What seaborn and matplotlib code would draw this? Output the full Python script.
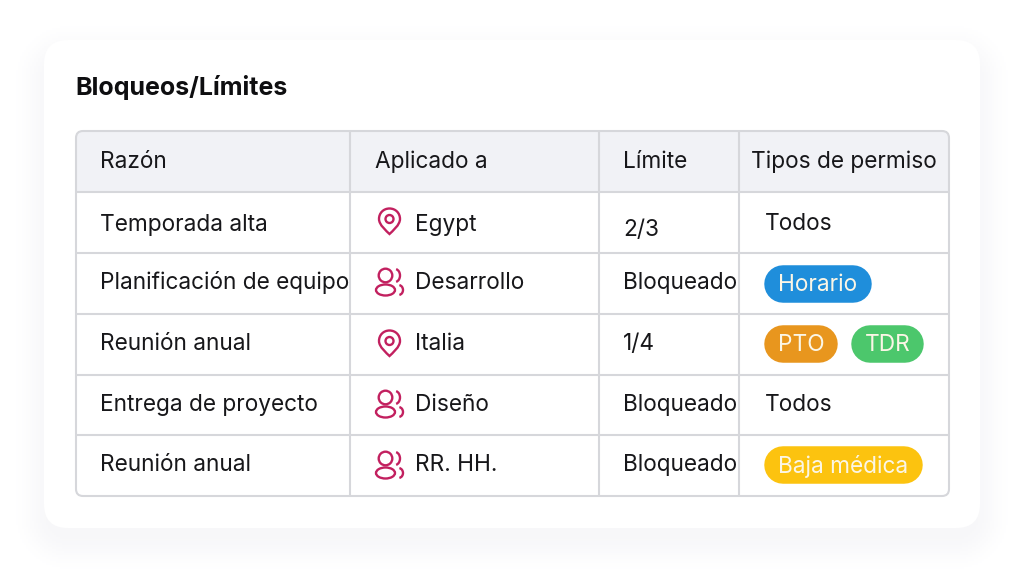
import numpy as np
import matplotlib
matplotlib.use("Agg")
import matplotlib.pyplot as plt
from matplotlib.patches import Circle, Ellipse, Arc, FancyBboxPatch, PathPatch, Rectangle
from matplotlib.path import Path
import seaborn as sns

TITLE = "Bloqueos/Límites"
HEADERS = ["Razón", "Aplicado a", "Límite", "Tipos de permiso"]
REASONS = ["Temporada alta", "Planificación de equipo", "Reunión anual",
           "Entrega de proyecto", "Reunión anual"]
APPLIED = ["Egypt", "Desarrollo", "Italia", "Diseño", "RR. HH."]
APPLIED_KIND = ["pin", "group", "pin", "group", "group"]
LIMITS = ["2/3", "Bloqueado", "1/4", "Bloqueado", "Bloqueado"]
PERMITS = [["Todos"], ["Horario"], ["PTO", "TDR"], ["Todos"], ["Baja médica"]]
TAG_COLORS = {"Horario": "#1F8EDB", "PTO": "#E8961E", "TDR": "#4CC76C", "Baja médica": "#FCC30F"}

W, H = 1024, 579
CARD = (44, 40, 980, 528)
TABLE = (76, 131, 949, 496)
COL_X = [350, 599, 739]
ROW_Y = [192, 253, 314, 375, 435]
ROW_TEXT_Y = [225, 283, 344, 405, 465]
LINE = "#D6D7DB"
INK = "#17171A"
ICON = "#C2205F"

sns.set_theme(style="white")
plt.rcParams["font.family"] = ["Inter", "DejaVu Sans"]

fig = plt.figure(figsize=(W / 100, H / 100), dpi=100, facecolor="white")

# soft drop shadow behind the card, on its own full-figure axes
step = 2
xs = np.arange(0, W, step) + step / 2
ys = np.arange(0, H, step) + step / 2
gx, gy = np.meshgrid(xs, ys)
cx, cy = (CARD[0] + CARD[2]) / 2, (CARD[1] + CARD[3]) / 2 + 14
dx = np.abs(gx - cx) - (CARD[2] - CARD[0]) / 2 + 24
dy = np.abs(gy - cy) - (CARD[3] - CARD[1]) / 2 + 24
dist = np.hypot(np.maximum(dx, 0), np.maximum(dy, 0)) + np.minimum(np.maximum(dx, dy), 0) - 24
t = np.clip(1 - (dist + 8) / 42, 0, 1)
shadow = t * t * (3 - 2 * t)
bg = fig.add_axes([0, 0, 1, 1])
sns.heatmap(shadow, ax=bg, cbar=False, vmin=0, vmax=1, xticklabels=False, yticklabels=False,
            cmap=sns.blend_palette(["#FFFFFF", "#F7F7F9"], as_cmap=True), rasterized=True)
bg.axis("off")

ax = fig.add_axes([0, 0, 1, 1])
ax.patch.set_alpha(0)
ax.set_xlim(0, W)
ax.set_ylim(H, 0)
ax.axis("off")


def rounded(x0, y0, x1, y1, r, **kw):
    p = FancyBboxPatch((x0, y0), x1 - x0, y1 - y0, boxstyle=f"round,pad=0,rounding_size={r}", **kw)
    ax.add_patch(p)
    return p


def draw_pin(x, y):
    r = 10.5
    verts = [(x - r, y), (x - r, y - 6), (x - 6, y - r), (x, y - r),
             (x + 6, y - r), (x + r, y - 6), (x + r, y),
             (x + r, y + 6), (x + 3, y + 12), (x, y + 15),
             (x - 3, y + 12), (x - r, y + 6), (x - r, y)]
    codes = [Path.MOVETO] + [Path.CURVE4] * 12
    ax.add_patch(PathPatch(Path(verts, codes), fill=False, ec=ICON, lw=1.7))
    ax.add_patch(Circle((x, y), 4, fill=False, ec=ICON, lw=1.7))


def draw_group(x, y):
    ax.add_patch(Circle((x - 4.5, y - 6.5), 6.8, fill=False, ec=ICON, lw=1.7))
    ax.add_patch(Ellipse((x - 4.5, y + 8), 19, 11, fill=False, ec=ICON, lw=1.7))
    ax.add_patch(Arc((x + 5, y - 6.5), 10, 13, theta1=-80, theta2=80, ec=ICON, lw=1.7))
    ax.add_patch(Arc((x + 8.5, y + 8), 9, 10, theta1=-80, theta2=80, ec=ICON, lw=1.7))


# card and table frame
rounded(CARD[0], CARD[1], CARD[2], CARD[3], 24, fc="white", ec="none")
frame = rounded(TABLE[0], TABLE[1], TABLE[2], TABLE[3], 7, fc="white", ec="none", zorder=1)
header = Rectangle((TABLE[0], TABLE[1]), TABLE[2] - TABLE[0], ROW_Y[0] - TABLE[1], fc="#F1F2F6", ec="none", zorder=1.1)
ax.add_patch(header)
header.set_clip_path(frame)
for y in ROW_Y:
    ax.plot([TABLE[0], TABLE[2]], [y, y], color=LINE, lw=1.5, zorder=2, solid_capstyle="butt")
for x in COL_X:
    ax.plot([x, x], [TABLE[1], TABLE[3]], color=LINE, lw=1.5, zorder=2, solid_capstyle="butt")
rounded(TABLE[0], TABLE[1], TABLE[2], TABLE[3], 7, fc="none", ec=LINE, lw=1.5, zorder=2.1)

ax.text(75, 87, TITLE, fontsize=18, fontweight="bold", color="#0E0E10", va="center", ha="left")

FS = 16.3
for x, label in zip([100, 375, 623, 751], HEADERS):
    ax.text(x, 162, label, fontsize=FS, color=INK, va="center", ha="left", zorder=3)

limit_y = [230, 283, 344, 405, 465]
todos_y = [224, 283, 344, 405, 465]
icon_y = [221, 282, 343, 404, 465]
tag_y = [222, 283.5, 343.5, 403, 465]
TAG_SPANS = {"Horario": (764, 872), "PTO": (764, 838), "TDR": (851, 924), "Baja médica": (764, 923)}
TAG_HEIGHT = 37.5

for i in range(len(REASONS)):
    y = ROW_TEXT_Y[i]
    ax.text(100, y, REASONS[i], fontsize=FS, color=INK, va="center", ha="left", zorder=3)
    ax.text(415, y, APPLIED[i], fontsize=FS, color=INK, va="center", ha="left", zorder=3)
    ax.text(623, limit_y[i], LIMITS[i], fontsize=FS, color=INK, va="center", ha="left", zorder=3)
    if APPLIED_KIND[i] == "pin":
        draw_pin(389.5, icon_y[i] - 2)
    else:
        draw_group(390, icon_y[i])
    for tag in PERMITS[i]:
        if tag == "Todos":
            ax.text(764.5, todos_y[i], tag, fontsize=FS, color=INK, va="center", ha="left", zorder=3)
            continue
        x0, x1 = TAG_SPANS[tag]
        yc = tag_y[i]
        # a thick round-capped line gives a true pill shape
        ax.plot([x0 + TAG_HEIGHT / 2, x1 - TAG_HEIGHT / 2], [yc, yc], color=TAG_COLORS[tag],
                lw=TAG_HEIGHT * 0.72, solid_capstyle="round", zorder=3)
        ax.text((x0 + x1) / 2, yc + 1.5, tag, fontsize=FS, color="#FBF6E6", va="center", ha="center", zorder=4)

fig.savefig("out.png", dpi=100, facecolor="white")
plt.close(fig)
